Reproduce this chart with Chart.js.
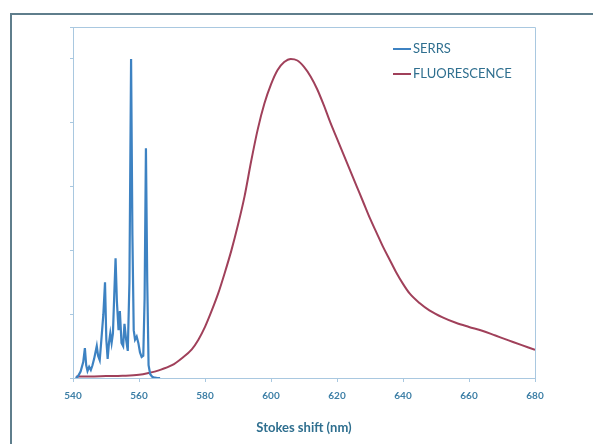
<!DOCTYPE html>
<html>
<head>
<meta charset="utf-8">
<script src="https://cdn.jsdelivr.net/npm/chart.js@4.4.1/dist/chart.umd.min.js"></script>
<style>
  html, body { margin: 0; padding: 0; background: #fff; }
  #wrap { position: relative; width: 593px; height: 444px; overflow: hidden; }
  #frame { position: absolute; left: 10px; top: 13px; width: 700px; height: 600px;
           border-left: 2px solid #5f7e8c; border-top: 2px solid #5f7e8c; }
  #myChart { position: absolute; left: 0; top: 0; }
</style>
</head>
<body>
<div id="wrap">
  <div id="frame"></div>
  <canvas id="myChart" width="593" height="444"></canvas>
</div>
<script>
// SERRS spectrum (wavelength nm / relative intensity)
const serrsX = [540.8, 541.5, 542.3, 543.1, 543.6, 544.0, 544.4, 544.9, 545.4, 545.9,
  546.4, 546.8, 547.2, 547.6, 548.1, 548.6, 549.2, 549.7, 550.1, 550.5,
  550.9, 551.3, 551.7, 552.1, 552.5, 552.9, 553.3, 553.8, 554.2, 554.7,
  555.2, 555.6, 556.1, 556.6, 557.1, 557.6, 558.0, 558.4, 558.8, 559.3,
  559.8, 560.3, 560.8, 561.3, 561.7, 562.1, 562.5, 562.9, 563.4, 564.0,
  564.8, 565.6, 566.4];
const serrsY = [0.0, 0.005, 0.02, 0.05, 0.094, 0.04, 0.022, 0.035, 0.025, 0.04,
  0.06, 0.08, 0.10, 0.07, 0.056, 0.12, 0.2, 0.30, 0.12, 0.06,
  0.11, 0.14, 0.11, 0.14, 0.26, 0.375, 0.24, 0.15, 0.21, 0.11,
  0.10, 0.17, 0.12, 0.085, 0.3, 1.0, 0.45, 0.15, 0.12, 0.13,
  0.11, 0.08, 0.066, 0.07, 0.25, 0.72, 0.3, 0.04, 0.012, 0.004,
  0.001, 0.0, 0.0];

// Fluorescence spectrum
const fluoX = [541, 545, 550, 555, 560, 563, 566, 570, 573, 576, 578, 580, 582, 584,
  586, 588, 590, 592, 594, 596, 598, 600, 602, 604, 606, 608, 610, 612, 614,
  616, 618, 620, 622, 624, 626, 628, 630, 632, 634, 636, 638, 640, 642, 645,
  648, 652, 656, 660, 664, 668, 672, 676, 680];
const fluoY = [0.005, 0.005, 0.006, 0.007, 0.01, 0.016, 0.024, 0.04, 0.062, 0.09,
  0.12, 0.16, 0.21, 0.265, 0.33, 0.40, 0.48, 0.57, 0.68, 0.78, 0.86, 0.92, 0.965,
  0.99, 1.0, 0.995, 0.975, 0.945, 0.905, 0.855, 0.80, 0.75, 0.70, 0.65, 0.60, 0.55,
  0.50, 0.455, 0.41, 0.37, 0.33, 0.295, 0.265, 0.235, 0.212, 0.19, 0.173, 0.16,
  0.148, 0.133, 0.118, 0.103, 0.088];

const seriesNames = ["SERRS", "FLUORESCENCE"];
const xTicks = [540, 560, 580, 600, 620, 640, 660, 680];
const axisTitle = "Stokes shift (nm)";

const textColor = "#2f6f8f";
const axisColor = "#a9c8e0";

function toPoints(xs, ys) {
  return xs.map((x, i) => ({ x: x, y: ys[i] }));
}

// light box around the plot area + legend in the upper right
const boxAndLegend = {
  id: "boxAndLegend",
  afterDraw(chart) {
    const ctx = chart.ctx;
    const a = chart.chartArea;
    ctx.save();
    ctx.strokeStyle = axisColor;
    ctx.lineWidth = 1;
    ctx.beginPath();
    ctx.moveTo(a.left, a.top + 0.5);
    ctx.lineTo(a.right + 0.5, a.top + 0.5);
    ctx.lineTo(a.right + 0.5, a.bottom);
    ctx.stroke();

    ctx.font = "13px Lato";
    ctx.textBaseline = "middle";
    chart.data.datasets.forEach((ds, i) => {
      const y = 49 + i * 25;
      ctx.strokeStyle = ds.borderColor;
      ctx.lineWidth = 2;
      ctx.beginPath();
      ctx.moveTo(393, y);
      ctx.lineTo(411, y);
      ctx.stroke();
      ctx.fillStyle = textColor;
      ctx.fillText(ds.label, 413, y);
    });
    ctx.restore();
  }
};

new Chart(document.getElementById("myChart").getContext("2d"), {
  type: "line",
  data: {
    datasets: [
      {
        label: seriesNames[0],
        data: toPoints(serrsX, serrsY),
        borderColor: "#3d82c2",
        borderWidth: 2.2,
        pointRadius: 0,
        tension: 0
      },
      {
        label: seriesNames[1],
        data: toPoints(fluoX, fluoY),
        borderColor: "#a0405a",
        borderWidth: 2,
        pointRadius: 0,
        cubicInterpolationMode: "monotone"
      }
    ]
  },
  options: {
    responsive: false,
    animation: false,
    layout: { padding: { top: 27, right: 58, bottom: 0, left: 0 } },
    plugins: {
      legend: { display: false },
      tooltip: { enabled: false }
    },
    scales: {
      x: {
        type: "linear",
        min: 540,
        max: 680,
        afterBuildTicks: (s) => { s.ticks = xTicks.map(v => ({ value: v })); },
        afterFit: (s) => { s.height = 66; },
        grid: { drawOnChartArea: false, drawTicks: true, tickLength: 4, color: axisColor },
        border: { display: true, color: axisColor },
        ticks: {
          padding: 8,
          color: "#3d7fa6",
          font: { family: "Lato", size: 10, weight: "bold" },
          maxRotation: 0
        },
        title: {
          display: true,
          text: axisTitle,
          color: textColor,
          font: { family: "Lato", size: 13, weight: "bold" },
          padding: { top: 4, bottom: 8 }
        }
      },
      y: {
        min: 0,
        max: 1.1,
        ticks: { display: false, stepSize: 0.2 },
        afterFit: (s) => { s.width = 73; },
        grid: { drawOnChartArea: false, drawTicks: true, tickLength: 3, color: axisColor },
        border: { display: true, color: axisColor }
      }
    }
  },
  plugins: [boxAndLegend]
});
</script>
</body>
</html>
